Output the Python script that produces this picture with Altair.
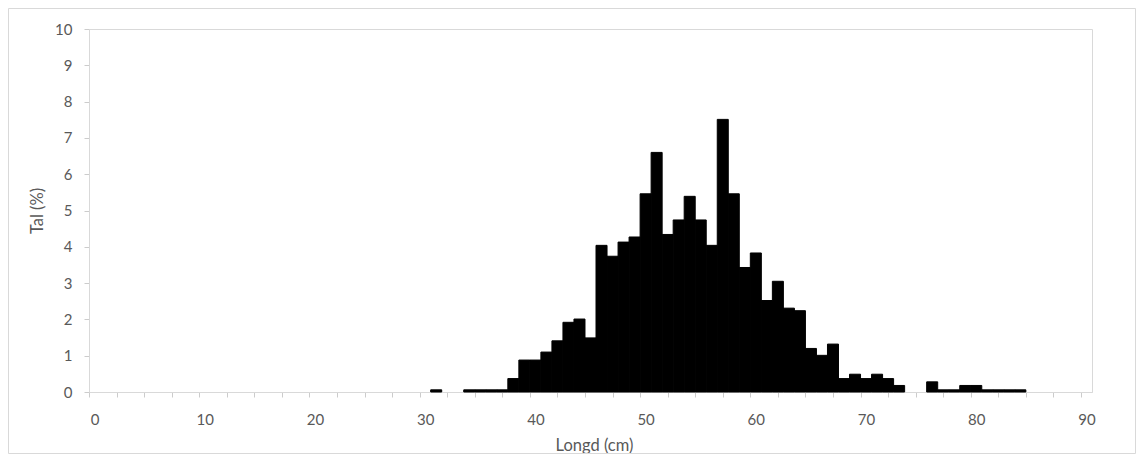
import altair as alt
import pandas as pd

# ---- data (length class in cm, share in %) ----
LENGTH_CM = [31, 34, 35, 36, 37, 38, 39, 40, 41, 42, 43, 44, 45, 46, 47, 48, 49,
             50, 51, 52, 53, 54, 55, 56, 57, 58, 59, 60, 61, 62, 63, 64, 65, 66,
             67, 68, 69, 70, 71, 72, 73, 76, 77, 78, 79, 80, 81, 82, 83, 84]
SHARE_PCT = [0.06, 0.06, 0.06, 0.06, 0.06, 0.37, 0.88, 0.88, 1.10, 1.41, 1.92,
             2.01, 1.49, 4.04, 3.74, 4.13, 4.27, 5.46, 6.60, 4.34, 4.74, 5.39,
             4.74, 4.04, 7.51, 5.46, 3.43, 3.83, 2.52, 3.05, 2.31, 2.24, 1.20,
             1.01, 1.32, 0.37, 0.49, 0.37, 0.49, 0.37, 0.18, 0.28, 0.06, 0.06,
             0.18, 0.18, 0.06, 0.06, 0.06, 0.06]
X_TICK_LABELS = [0, 10, 20, 30, 40, 50, 60, 70, 80, 90]
Y_TICK_LABELS = [0, 1, 2, 3, 4, 5, 6, 7, 8, 9, 10]
X_TITLE = "Longd (cm)"
Y_TITLE = "Tal (%)"

df = pd.DataFrame({"len": LENGTH_CM, "pct": SHARE_PCT})

W, H = 1003, 363
TEXT = "#595959"
LINE = "#d9d9d9"
FONT = "Lato"

# tick marks every 2.5 classes starting at the left edge of the category axis
tick_positions = [-0.5 + 2.5 * k for k in range(37)]
label_expr = ("indexof([" + ",".join(str(v) for v in X_TICK_LABELS) +
              "], datum.value + 0.5) >= 0 ? format(datum.value + 0.5, 'd') : ''")

x_scale = alt.Scale(domain=[-0.5, 90.5], nice=False, zero=False)
y_scale = alt.Scale(domain=[0, 10], nice=False)

frame = alt.Chart(pd.DataFrame({"k": [0]})).mark_rect(
    fillOpacity=0, stroke=LINE, strokeWidth=1
).encode(
    x=alt.value(-80.5), x2=alt.value(W + 43.5),
    y=alt.value(-20.5), y2=alt.value(H + 61.5),
)

bars = alt.Chart(df).transform_calculate(
    lo="datum.len - 0.5", hi="datum.len + 0.5"
).mark_rect(color="black", stroke="black", strokeWidth=1).encode(
    x=alt.X("lo:Q", scale=x_scale, title=X_TITLE,
            axis=alt.Axis(values=tick_positions, labelExpr=label_expr,
                          labelOffset=5.5, labelFlush=False, labelOverlap=False,
                          tickSize=5, labelPadding=15, grid=False,
                          domainColor=LINE, tickColor="#cccccc",
                          labelColor=TEXT, labelFont=FONT, labelFontSize=15,
                          titleColor=TEXT, titleFont=FONT, titleFontSize=16.5,
                          titleFontWeight="normal", titleX=505, titleY=58,
                          titleBaseline="alphabetic", titleAlign="center")),
    x2="hi:Q",
    y=alt.Y("pct:Q", scale=y_scale, title=Y_TITLE,
            axis=alt.Axis(values=Y_TICK_LABELS, format="d",
                          tickSize=5, labelPadding=12, grid=False,
                          domainColor=LINE, tickColor="#cccccc",
                          labelColor=TEXT, labelFont=FONT, labelFontSize=15,
                          labelFlush=False,
                          titleColor=TEXT, titleFont=FONT, titleFontSize=16.5,
                          titleFontWeight="normal", titleX=-47, titleY=181.5,
                          titleBaseline="alphabetic", titleAlign="center")),
    y2=alt.datum(0),
)

chart = alt.layer(frame, bars).properties(
    width=W, height=H,
    padding={"left": 81, "top": 21, "right": 44, "bottom": 62},
    autosize=alt.AutoSizeParams(type="none"),
    background="white",
).configure_view(stroke=LINE, strokeWidth=1)

chart.save("out.html", embed_options={"renderer": "svg", "actions": False})
